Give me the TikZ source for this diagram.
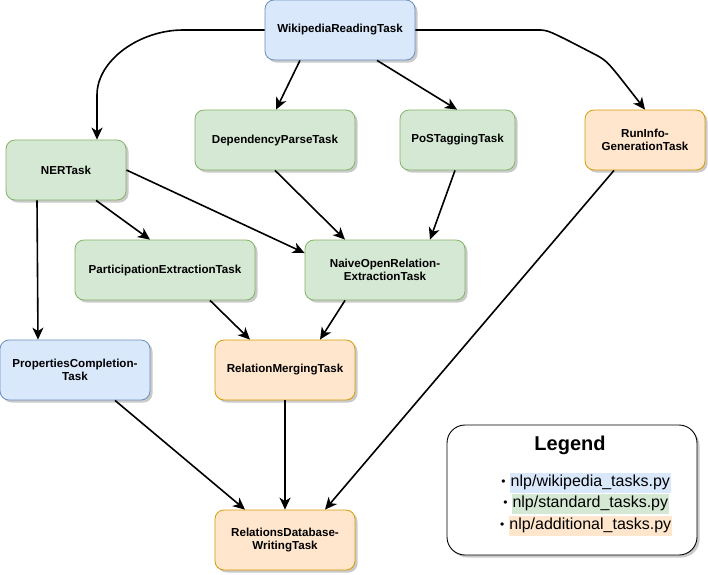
\documentclass[tikz,border=0pt]{standalone}
\usepackage{fontspec}
\setmainfont{Liberation Sans}
\usetikzlibrary{arrows.meta,shadows}
\definecolor{bfill}{HTML}{DAE8FC}\definecolor{bline}{HTML}{6C8EBF}
\definecolor{gfill}{HTML}{D5E8D4}\definecolor{gline}{HTML}{82B366}
\definecolor{ofill}{HTML}{FFE6CC}\definecolor{oline}{HTML}{D79B00}
\newcommand{\hl}[2]{{\setlength{\fboxsep}{0.6pt}\colorbox{#1}{\strut #2}}}
\newcommand{\smallbul}{\raisebox{0.1ex}{\scalebox{0.75}{\textbullet}}}
\begin{document}
\begin{tikzpicture}[x=1pt,y=-1pt,
  task/.style={rounded corners=9pt,line width=0.8pt,minimum height=60pt,align=center,
    font=\fontsize{11.6}{13.5}\selectfont\bfseries,inner sep=2pt,
    drop shadow={shadow xshift=2.5pt,shadow yshift=-2.5pt,fill=black!35,opacity=0.6}},
  btask/.style={task,fill=bfill,draw=bline},
  gtask/.style={task,fill=gfill,draw=gline},
  otask/.style={task,fill=ofill,draw=oline},
  legitem/.style={font=\fontsize{16}{18}\selectfont,inner sep=0pt},
  conn/.style={line width=1.6pt,-{Stealth[length=12pt,width=11pt,inset=3.5pt]}}]
\useasboundingbox (0,0) rectangle (708,574);
\node[btask,minimum width=150pt] (wiki) at (340,30) {WikipediaReadingTask};
\node[gtask,minimum width=120pt] (ner) at (66,170) {NERTask};
\node[gtask,minimum width=160pt] (dep) at (275,140) {DependencyParseTask};
\node[gtask,minimum width=115pt] (pos) at (457.5,140) {PoSTaggingTask};
\node[otask,minimum width=120pt] (rinfo) at (645,140) {RunInfo-\\GenerationTask};
\node[gtask,minimum width=180pt] (part) at (165,270) {ParticipationExtractionTask};
\node[gtask,minimum width=160pt] (naive) at (385,270) {NaiveOpenRelation-\\ExtractionTask};
\node[btask,minimum width=150pt] (prop) at (75,370) {PropertiesCompletion-\\Task};
\node[otask,minimum width=140pt] (rm) at (285,370) {RelationMergingTask};
\node[otask,minimum width=140pt] (rdb) at (285,540) {RelationsDatabase-\\WritingTask};
\node[draw=black,line width=0.9pt,rounded corners=18pt,fill=white,minimum width=250pt,minimum height=130pt,
  drop shadow={shadow xshift=2.5pt,shadow yshift=-2.5pt,fill=black!35,opacity=0.6}] (legend) at (572,490) {};
\node[font=\fontsize{20}{22}\selectfont\bfseries] (legt) at (570,445) {Legend};
\node[legitem] (l1) at (586,483) {\smallbul\ \hl{bfill}{nlp/wikipedia\_tasks.py}};
\node[legitem] (l2) at (586,504) {\smallbul\ \hl{gfill}{nlp/standard\_tasks.py}};
\node[legitem] (l3) at (586,526) {\smallbul\ \hl{ofill}{nlp/additional\_tasks.py}};
\draw[conn] (wiki.west) -- (183,30) .. controls (140,30) and (97,60) .. (97,95) -- ([xshift=31pt]ner.north);
\draw[conn] (wiki.east) -- (538,30) .. controls (548,30) .. (598,56) .. controls (608,62) .. (rinfo.north);
\draw[conn] ([xshift=-40pt]wiki.south) -- ([xshift=1pt]dep.north);
\draw[conn] ([xshift=37pt]wiki.south) -- ([xshift=-0.5pt]pos.north);
\draw[conn] ([xshift=30pt]ner.south) -- ([xshift=-15pt]part.north);
\draw[conn] (ner.east) -- ([yshift=17pt]naive.west);
\draw[conn] ([xshift=-29pt]ner.south) -- ([xshift=-37pt]prop.north);
\draw[conn] (dep.south) -- ([xshift=-40pt]naive.north);
\draw[conn] ([xshift=-2.5pt]pos.south) -- ([xshift=45pt]naive.north);
\draw[conn] ([xshift=45pt]part.south) -- ([xshift=-35pt]rm.north);
\draw[conn] ([xshift=-40pt]naive.south) -- ([xshift=35pt]rm.north);
\draw[conn] (rm.south) -- (rdb.north);
\draw[conn] ([xshift=40pt]prop.south) -- ([xshift=-40pt]rdb.north);
\draw[conn] ([xshift=-31pt]rinfo.south) -- ([xshift=40pt]rdb.north);
\end{tikzpicture}
\end{document}
